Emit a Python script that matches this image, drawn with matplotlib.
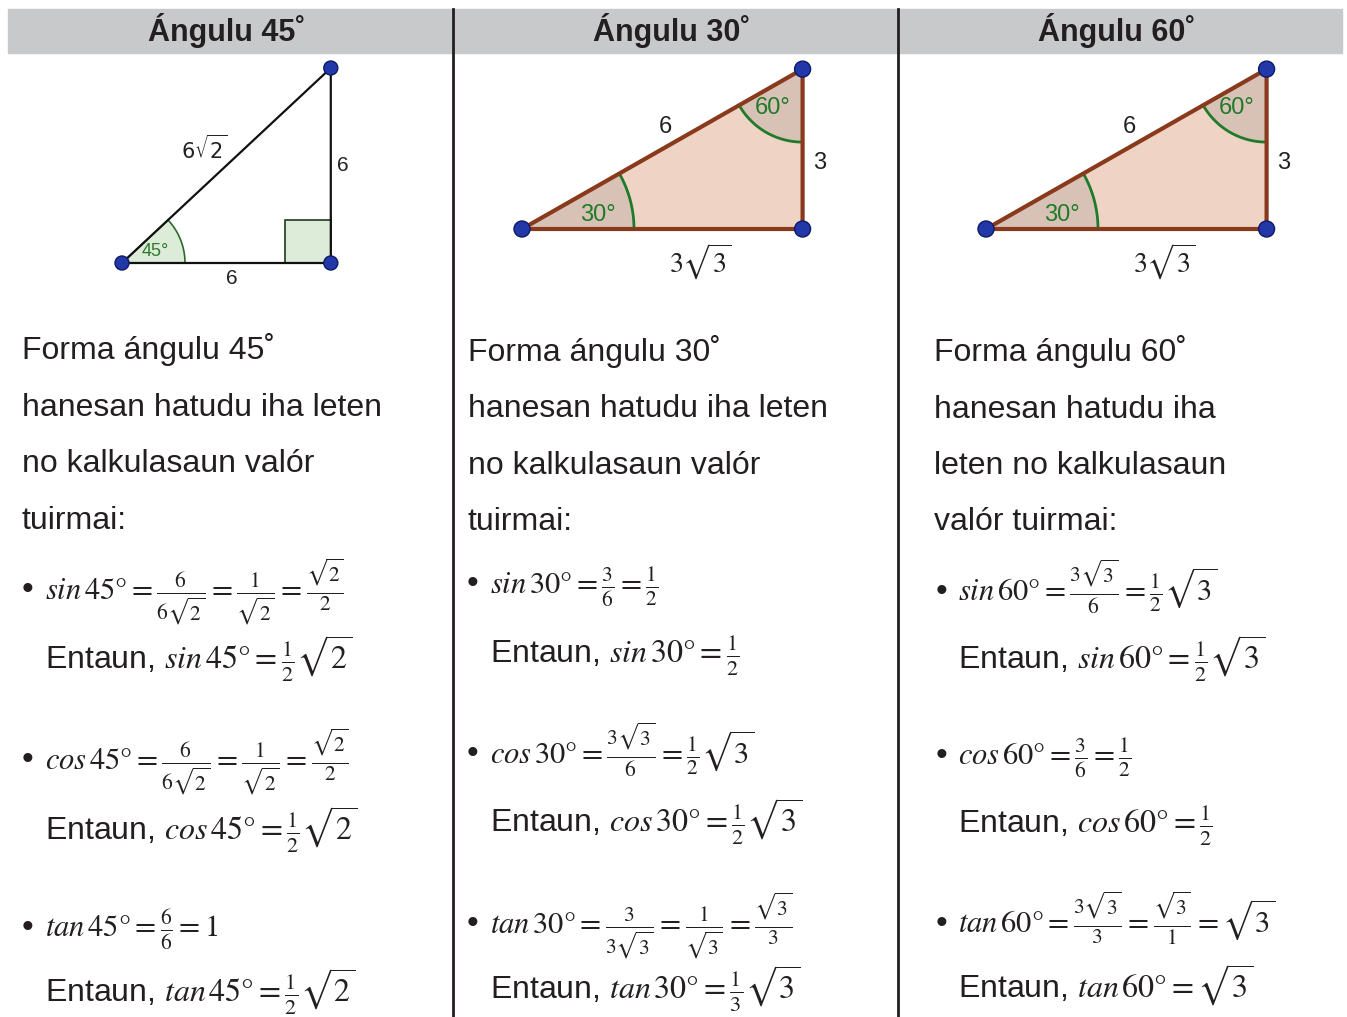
import numpy as np
import matplotlib.pyplot as plt
from matplotlib.patches import Polygon, Rectangle, Circle

plt.rcParams['font.family'] = ['Liberation Sans', 'DejaVu Sans']
plt.rcParams['mathtext.fontset'] = 'stix'

# --- content ---
angles = [45, 30, 60]
headers = ['Ángulu 45˚', 'Ángulu 30˚', 'Ángulu 60˚']
intro = [
    ['Forma ángulu 45˚', 'hanesan hatudu iha leten', 'no kalkulasaun valór', 'tuirmai:'],
    ['Forma ángulu 30˚', 'hanesan hatudu iha leten', 'no kalkulasaun valór', 'tuirmai:'],
    ['Forma ángulu 60˚', 'hanesan hatudu iha', 'leten no kalkulasaun', 'valór tuirmai:'],
]
funcs = ['sin', 'cos', 'tan']
steps = {
    'sin': [r'\frac{6}{6\sqrt{2}}=\frac{1}{\sqrt{2}}=\frac{\sqrt{2}}{2}',
            r'\frac{3}{6}=\frac{1}{2}',
            r'\frac{3\sqrt{3}}{6}=\frac{1}{2}\sqrt{3}'],
    'cos': [r'\frac{6}{6\sqrt{2}}=\frac{1}{\sqrt{2}}=\frac{\sqrt{2}}{2}',
            r'\frac{3\sqrt{3}}{6}=\frac{1}{2}\sqrt{3}',
            r'\frac{3}{6}=\frac{1}{2}'],
    'tan': [r'\frac{6}{6}=1',
            r'\frac{3}{3\sqrt{3}}=\frac{1}{\sqrt{3}}=\frac{\sqrt{3}}{3}',
            r'\frac{3\sqrt{3}}{3}=\frac{\sqrt{3}}{1}=\sqrt{3}'],
}
results = {
    'sin': [r'\frac{1}{2}\sqrt{2}', r'\frac{1}{2}', r'\frac{1}{2}\sqrt{3}'],
    'cos': [r'\frac{1}{2}\sqrt{2}', r'\frac{1}{2}\sqrt{3}', r'\frac{1}{2}'],
    'tan': [r'\frac{1}{2}\sqrt{2}', r'\frac{1}{3}\sqrt{3}', r'\sqrt{3}'],
}

# triangle data (side lengths and labels)
tri_base = [6, 3 * np.sqrt(3), 3 * np.sqrt(3)]
tri_height = [6, 3, 3]
hyp_labels = [r'$6\sqrt{2}$', '6', '6']
height_labels = ['6', '3', '3']
base_labels = ['6', r'$3\sqrt{3}$', r'$3\sqrt{3}$']
corner_angles = [(45, None), (30, 60), (30, 60)]

# --- layout (pixels) ---
W, H = 1347, 1017
col_left = [8, 453, 898]
text_x = [22, 468, 934]
bullet_x = [22, 467, 936]
math_x = [45, 490, 958]
origins = [(122, 263), (522, 229), (986, 229)]
sx = [34.8, 54.0, 54.0]
sy = [32.5, 53.3, 53.3]
intro_base = [[359, 416, 472, 529], [361, 417, 474, 530], [361, 418, 474, 530]]
formula_base = [[599, 769, 937], [594, 764, 933], [601, 765, 933]]
result_base = [[669, 840, 1002], [663, 832, 999], [669, 833, 998]]

ink = '#231f20'
fig = plt.figure(figsize=(W / 100, H / 100), dpi=100)
ax = fig.add_axes([0, 0, 1, 1])
ax.set_xlim(0, W)
ax.set_ylim(H, 0)
ax.axis('off')

# header band and column rules
ax.add_patch(Rectangle((8, 9), 1334, 44, color='#c8c9cb', zorder=0))
for x in [453, 898]:
    ax.plot([x, x], [9, H], color=ink, lw=2.0, zorder=3)


def sector(cx, cy, r, a0, a1, n=40):
    t = np.linspace(a0, a1, n)
    pts = np.column_stack([cx + r * np.cos(t), cy + r * np.sin(t)])
    return np.vstack([[cx, cy], pts])


for i in range(3):
    cx_col = col_left[i] + 222
    ax.text(cx_col - 3, 31, headers[i], ha='center', va='center', fontsize=22,
            fontweight='bold', color=ink)

    ox, oy = origins[i]
    A = np.array([ox, oy])
    B = np.array([ox + tri_base[i] * sx[i], oy])
    C = np.array([ox + tri_base[i] * sx[i], oy - tri_height[i] * sy[i]])
    hyp_ang = np.arctan2(C[1] - A[1], C[0] - A[0])

    if i == 0:
        # plain black triangle with green angle and right-angle square
        ax.add_patch(Polygon(sector(A[0], A[1], 63, hyp_ang, 0), closed=True,
                             facecolor='#dcecd9', edgecolor='#2d6b2d', lw=1.2, zorder=2))
        ax.add_patch(Rectangle((B[0] - 46, B[1] - 43), 46, 43, facecolor='#dcecd9',
                               edgecolor='#1e3a1e', lw=1.2, zorder=2))
        ax.plot([A[0], B[0], C[0], A[0]], [A[1], B[1], C[1], A[1]], color='#111111',
                lw=1.6, zorder=4)
        ax.text(A[0] + 33, A[1] - 12, f'{angles[i]}°', color='#2d7a2d', fontsize=13,
                ha='center', va='center', zorder=5)
        rad = 7
        fs = 15
        offs = [(-22, -17), (12, 0), (5, 16)]
    else:
        ax.add_patch(Polygon([A, B, C], closed=True, facecolor='#efd3c5',
                             edgecolor='none', zorder=1))
        a_left, a_top = corner_angles[i]
        ax.add_patch(Polygon(sector(A[0], A[1], 112, hyp_ang, 0), closed=True,
                             facecolor='#d8c2b6', edgecolor='none', zorder=2))
        t = np.linspace(hyp_ang, 0, 40)
        ax.plot(A[0] + 112 * np.cos(t), A[1] + 112 * np.sin(t), color='#1f7a2a', lw=2, zorder=3)
        down = np.pi / 2
        to_a = np.arctan2(A[1] - C[1], A[0] - C[0])
        ax.add_patch(Polygon(sector(C[0], C[1], 73, down, to_a), closed=True,
                             facecolor='#d8c2b6', edgecolor='none', zorder=2))
        t = np.linspace(down, to_a, 40)
        ax.plot(C[0] + 73 * np.cos(t), C[1] + 73 * np.sin(t), color='#1f7a2a', lw=2, zorder=3)
        ax.plot([A[0], B[0], C[0], A[0]], [A[1], B[1], C[1], A[1]], color='#8a3a1c',
                lw=3, zorder=4, solid_joinstyle='round')
        ax.text(A[0] + 76, A[1] - 14, f'{a_left}°', color='#1f7a2a', fontsize=17,
                ha='center', va='center', zorder=5)
        ax.text(C[0] - 30, C[1] + 39, f'{a_top}°', color='#1f7a2a', fontsize=17,
                ha='center', va='center', zorder=5)
        rad = 8
        fs = 17
        offs = [(3, -22), (17, 14), (38, 33)]

    for P in (A, B, C):
        ax.add_patch(Circle(P, rad, facecolor='#2338a8', edgecolor='#0f1a66', lw=1, zorder=6))

    hyp_mid = (A + C) / 2
    ht_mid = (B + C) / 2
    base_mid = (A + B) / 2
    labels = [hyp_labels[i], height_labels[i], base_labels[i]]
    mids = [hyp_mid, ht_mid, base_mid]
    for lab, m, o in zip(labels, mids, offs):
        mf = 'dejavusans' if i == 0 else 'stix'
        size = fs + 3 if lab.startswith('$3') else fs
        ax.text(m[0] + o[0], m[1] + o[1], lab, fontsize=size, color='#222222',
                ha='center', va='center', math_fontfamily=mf, zorder=5)

    # intro paragraph
    for line, yb in zip(intro[i], intro_base[i]):
        ax.text(text_x[i], yb, line, fontsize=23, color=ink, ha='left', va='baseline')

    # formulas
    for k, f in enumerate(funcs):
        yb = formula_base[i][k]
        ax.text(bullet_x[i], yb - 9, '•', fontsize=24, color=ink, ha='left', va='center')
        ax.text(math_x[i], yb, rf'${f}\,{angles[i]}° = {steps[f][i]}$', fontsize=22,
                color=ink, ha='left', va='baseline')
        ax.text(math_x[i], result_base[i][k],
                rf'Entaun, ${f}\,{angles[i]}° = {results[f][i]}$', fontsize=23,
                color=ink, ha='left', va='baseline')

fig.savefig('out.png', dpi=100)
